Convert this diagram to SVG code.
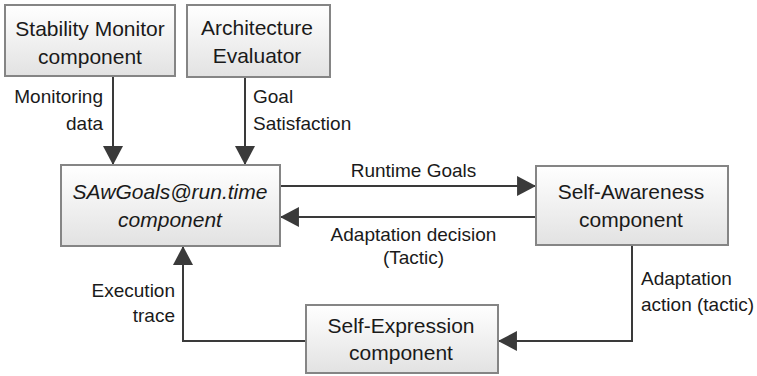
<svg xmlns="http://www.w3.org/2000/svg" width="757" height="376" viewBox="0 0 757 376">
<defs>
<linearGradient id="boxfill" x1="0" y1="0" x2="0" y2="1">
<stop offset="0" stop-color="#ffffff"/>
<stop offset="1" stop-color="#e2e2e2"/>
</linearGradient>
<marker id="arrow" markerUnits="userSpaceOnUse" markerWidth="20" markerHeight="20" viewBox="0 0 18 19" refX="18" refY="9.5" orient="auto">
<path d="M0,0 L18,9.5 L0,19 z" fill="#3a3a3a"/>
</marker>
<style>
.box{fill:url(#boxfill);stroke:#858585;stroke-width:2}
.bt{font-family:"Liberation Sans",Arial,sans-serif;font-size:21px;fill:#1a1a1a;text-anchor:middle}
.it{font-style:italic}
.lb{font-family:"Liberation Sans",Arial,sans-serif;font-size:19px;fill:#1a1a1a}
.conn{fill:none;stroke:#3a3a3a;stroke-width:2;marker-end:url(#arrow)}
</style>
</defs>
<rect width="757" height="376" fill="#ffffff"/>
<g id="connectors">
<path class="conn" d="M113,76 L113,165"/>
<path class="conn" d="M245,77 L245,165"/>
<path class="conn" d="M280,186 L536,186"/>
<path class="conn" d="M536,217 L280,217"/>
<path class="conn" d="M632,245 L632,341 L498,341"/>
<path class="conn" d="M306,341 L183,341 L183,246"/>
<text class="lb" x="103" y="103" text-anchor="end">Monitoring</text>
<text class="lb" x="103" y="130" text-anchor="end">data</text>
<text class="lb" x="253" y="103">Goal</text>
<text class="lb" x="253" y="130">Satisfaction</text>
<text class="lb" x="413.5" y="177" text-anchor="middle">Runtime Goals</text>
<text class="lb" x="413.5" y="241" text-anchor="middle">Adaptation decision</text>
<text class="lb" x="413.5" y="264" text-anchor="middle">(Tactic)</text>
<text class="lb" x="641" y="285">Adaptation</text>
<text class="lb" x="641" y="311">action (tactic)</text>
<text class="lb" x="175" y="297" text-anchor="end">Execution</text>
<text class="lb" x="175" y="322" text-anchor="end">trace</text>
</g>
<g id="stability-monitor">
<rect class="box" x="5" y="5" width="170" height="71"/>
<text class="bt" x="90" y="36">Stability Monitor</text>
<text class="bt" x="90" y="64">component</text>
</g>
<g id="architecture-evaluator">
<rect class="box" x="187" y="5" width="143" height="72"/>
<text class="bt" x="257" y="35">Architecture</text>
<text class="bt" x="257" y="63">Evaluator</text>
</g>
<g id="sawgoals">
<rect class="box" x="61" y="165" width="219" height="81"/>
<text class="bt it" x="170" y="199">SAwGoals@run.time</text>
<text class="bt it" x="170" y="227">component</text>
</g>
<g id="self-awareness">
<rect class="box" x="536" y="166" width="192" height="79"/>
<text class="bt" x="631" y="199">Self-Awareness</text>
<text class="bt" x="631" y="227">component</text>
</g>
<g id="self-expression">
<rect class="box" x="306" y="305" width="192" height="68"/>
<text class="bt" x="401" y="333">Self-Expression</text>
<text class="bt" x="401" y="360">component</text>
</g>
</svg>
